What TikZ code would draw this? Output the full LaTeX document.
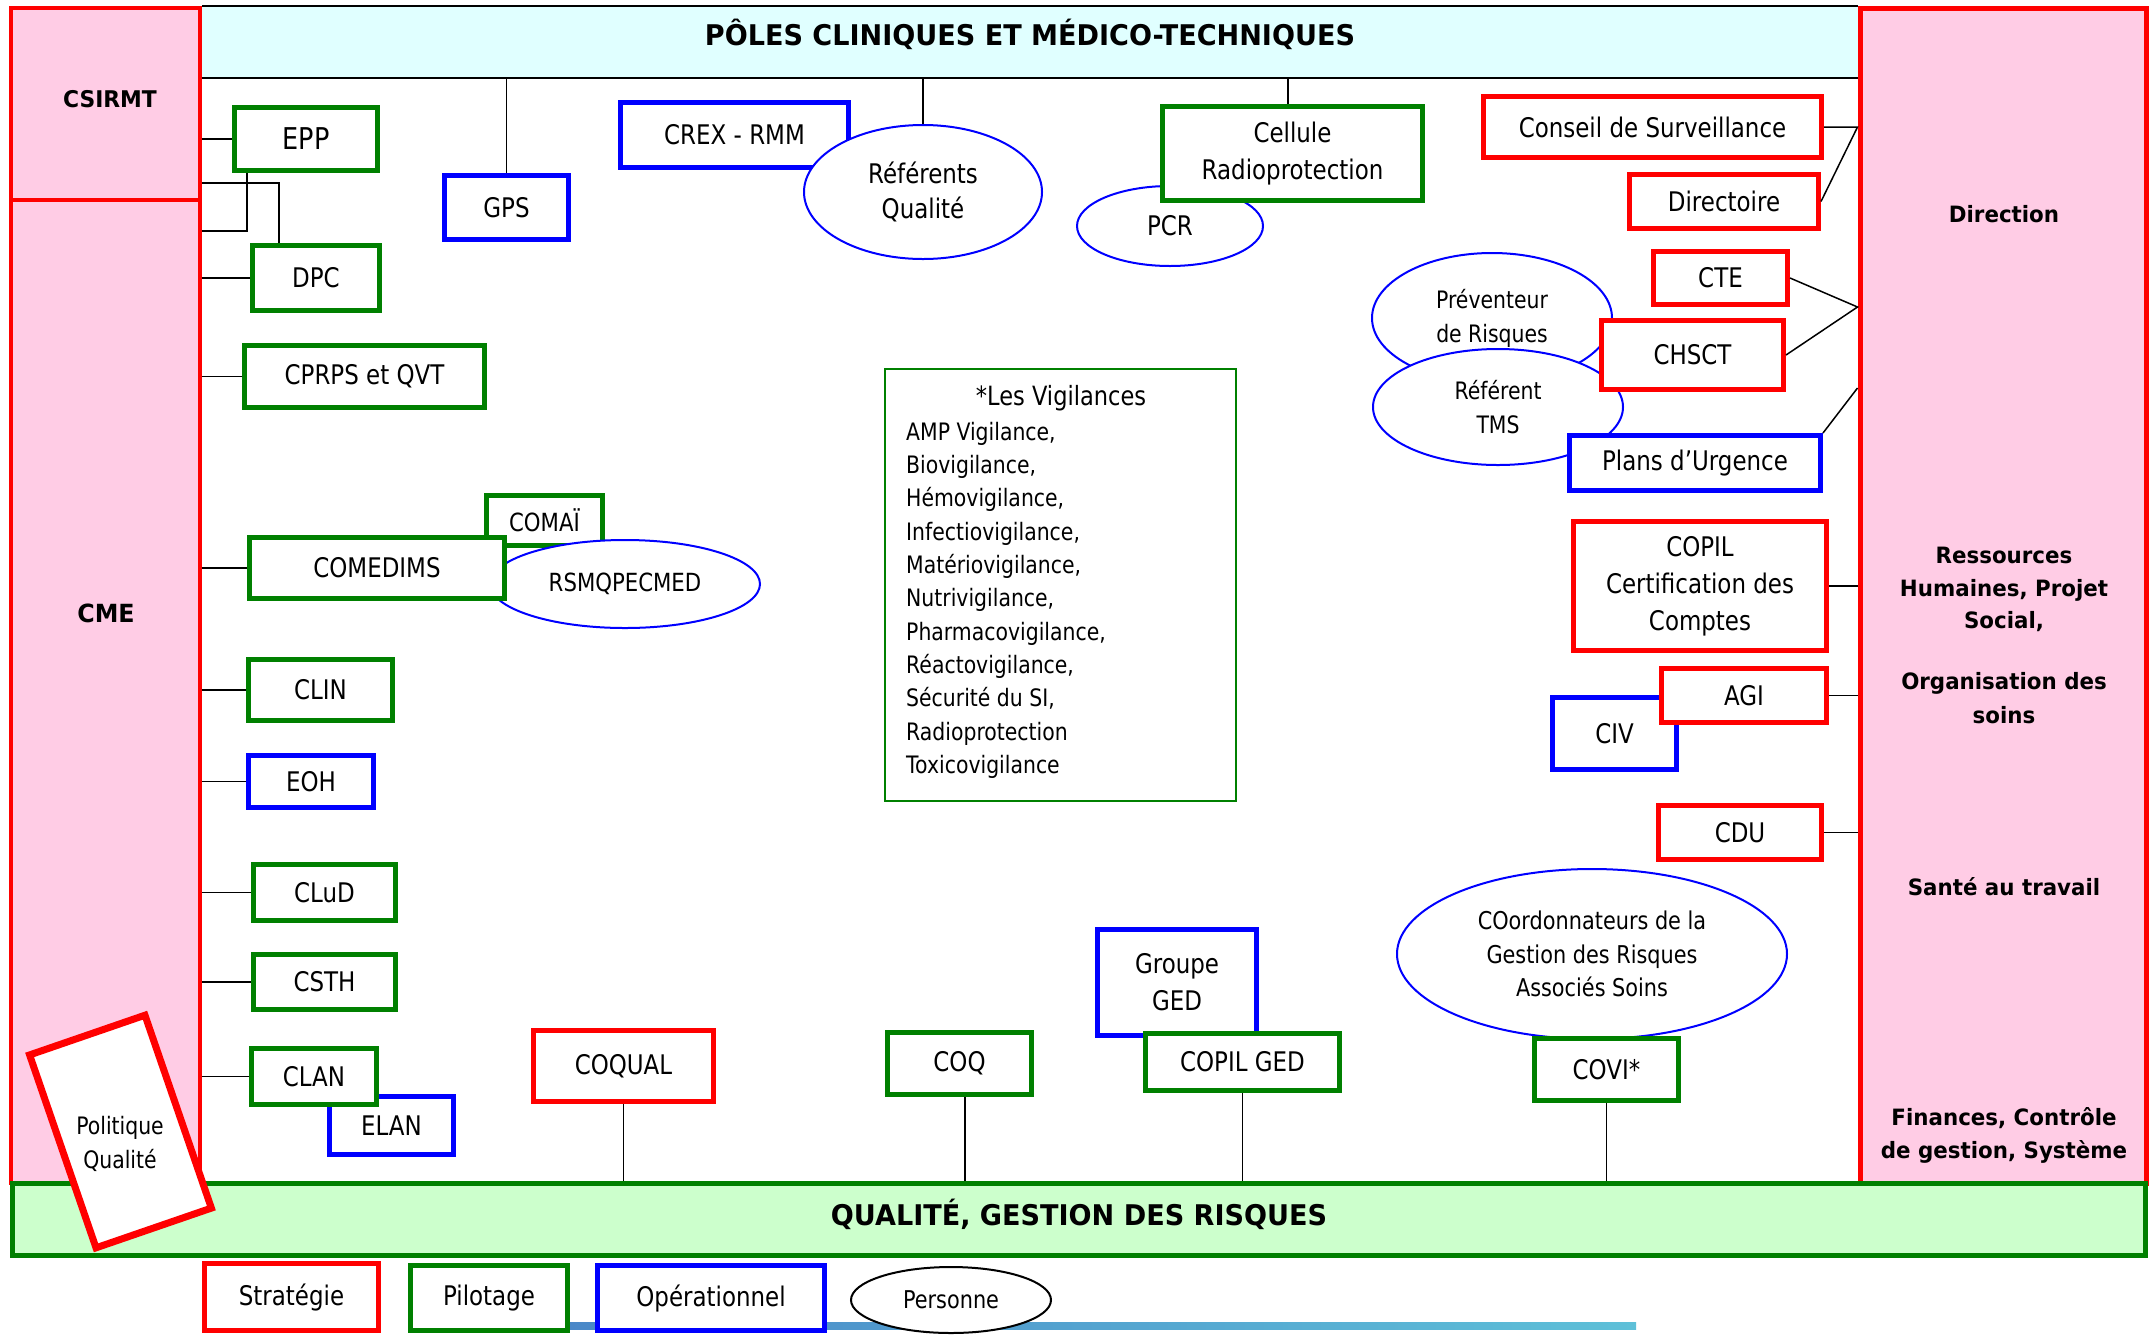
\documentclass[tikz,border=0pt]{standalone}
\usepackage{fontspec}
\setmainfont{DejaVu Sans}[FakeStretch=0.85]
\newfontfamily\bfam{DejaVu Sans}[FakeStretch=0.95]
\usetikzlibrary{shapes.geometric}
\definecolor{pinkc}{HTML}{FFCCE5}
\definecolor{cyanc}{HTML}{E0FFFF}
\definecolor{greenc}{HTML}{CCFFCC}
\definecolor{gr}{HTML}{008000}
\definecolor{rd}{HTML}{FF0000}
\definecolor{bl}{HTML}{0000FF}
\definecolor{lb1}{HTML}{4A88C8}
\definecolor{lb2}{HTML}{5EC0D8}
\tikzset{
 box/.style={draw, line width=5, fill=white, inner sep=0, align=center, font=\fontsize{27}{37}\selectfont},
 gbox/.style={box, draw=gr},
 rbox/.style={box, draw=rd},
 bbox/.style={box, draw=bl},
 ell/.style={ellipse, draw=bl, line width=2, fill=white, inner sep=0, align=center, font=\fontsize{24}{34}\selectfont},
 conn/.style={draw=black, line width=1.5},
 col/.style={draw=rd, fill=pinkc, line width=4.5, inner sep=0},
 lbl/.style={inner sep=0, anchor=base, font=\bfam\bfseries\fontsize{28.5}{34}\selectfont},
 rlbl/.style={inner sep=0, anchor=base, font=\bfam\bfseries\fontsize{22.5}{33}\selectfont},
 vig/.style={inner sep=0, anchor=base west, font=\fontsize{24}{33}\selectfont},
}
\begin{document}
\begin{tikzpicture}[x=1pt,y=-1pt]
\useasboundingbox (0,0) rectangle (2152,1334);
\fill[white] (0,0) rectangle (2152,1334);

% top band
\node[fill=cyanc, minimum width=1656, minimum height=72, inner sep=0, outer sep=0] (poles) at (1030,42) {};
\draw[line width=2] (poles.north west) -- (poles.north east);
\draw[line width=2] (poles.south west) -- (poles.south east);
\node[lbl] (polest) at (1030,45) {PÔLES CLINIQUES ET MÉDICO-TECHNIQUES};

% side columns
\node[col, minimum width=189, minimum height=192] (csirmt) at (105.5,104) {};
\node[col, minimum width=189, minimum height=983] (cme) at (105.5,691.5) {};
\node[col, line width=5, minimum width=286, minimum height=1175] (dir) at (2003,595.5) {};
\node[lbl, font=\bfam\bfseries\fontsize{23}{28}\selectfont] (csirmtt) at (110,107) {CSIRMT};
\node[lbl, font=\bfam\bfseries\fontsize{25}{30}\selectfont] (cmet) at (106,622) {CME};
\node[rlbl] (r1) at (2004,222) {Direction};
\node[rlbl] (r2) at (2004,563) {Ressources};
\node[rlbl] (r3) at (2004,596) {Humaines, Projet};
\node[rlbl] (r4) at (2004,628) {Social,};
\node[rlbl] (r5) at (2004,689) {Organisation des};
\node[rlbl] (r6) at (2004,723) {soins};
\node[rlbl] (r7) at (2004,895) {Santé au travail};
\node[rlbl] (r8) at (2004,1125) {Finances, Contrôle};
\node[rlbl] (r9) at (2004,1158) {de gestion, Système};

% bottom band
\node[draw=gr, line width=5, fill=greenc, minimum width=2133, minimum height=72, inner sep=0] (qgr) at (1078.5,1219) {};
\node[lbl] (qgrt) at (1079,1225) {QUALITÉ, GESTION DES RISQUES};

% boxes and ellipses
\node[gbox, minimum width=143, minimum height=63, font=\fontsize{30}{37}\selectfont] (epp) at (306,139) {EPP};
\node[gbox, minimum width=127, minimum height=65] (dpc) at (316,278) {DPC};
\node[gbox, minimum width=240, minimum height=62] (cprps) at (364.5,376.5) {CPRPS et QVT};
\node[bbox, minimum width=124, minimum height=64] (gps) at (506.5,207.5) {GPS};
\node[bbox, minimum width=228, minimum height=65] (crex) at (734.5,135) {CREX - RMM};
\node[ell, minimum width=238, minimum height=134, font=\fontsize{27}{35}\selectfont] (refq) at (923,192) {Référents\\Qualité};
\node[ell, minimum width=186, minimum height=80, font=\fontsize{27}{35}\selectfont] (pcr) at (1170,226) {PCR};
\node[gbox, minimum width=260, minimum height=94] (cell) at (1292.5,153.5) {Cellule\\Radioprotection};
\node[rbox, minimum width=338, minimum height=61] (cons) at (1652.5,127) {Conseil de Surveillance};
\node[rbox, minimum width=189, minimum height=54] (dirc) at (1724,201.5) {Directoire};
\node[rbox, minimum width=134, minimum height=53] (cte) at (1720.5,278) {CTE};
\node[ell, minimum width=240, minimum height=130] (prev) at (1492,318) {Préventeur\\de Risques};
\node[ell, minimum width=250, minimum height=116] (tms) at (1498,407) {Référent\\TMS};
\node[rbox, minimum width=182, minimum height=69] (chsct) at (1692.5,355) {CHSCT};
\node[bbox, minimum width=251, minimum height=55] (plans) at (1695,463) {Plans d’Urgence};
\node[rbox, minimum width=253, minimum height=129] (copilc) at (1700,586) {COPIL\\Certification des\\Comptes};
\node[bbox, minimum width=124, minimum height=72] (civ) at (1614.5,733.5) {CIV};
\node[rbox, minimum width=165, minimum height=54] (agi) at (1744,695.5) {AGI};
\node[rbox, minimum width=163, minimum height=54] (cdu) at (1740,832.5) {CDU};
\node[gbox, minimum width=116, minimum height=50, font=\fontsize{25}{30}\selectfont] (comai) at (544.5,520.5) {COMAÏ};
\node[ell, minimum width=270, minimum height=88, font=\fontsize{25}{34}\selectfont] (rsmq) at (625,584) {RSMQPECMED};
\node[gbox, minimum width=255, minimum height=61] (comed) at (377,568) {COMEDIMS};
\node[gbox, minimum width=144, minimum height=61] (clin) at (320.5,690) {CLIN};
\node[bbox, minimum width=125, minimum height=52] (eoh) at (311,781.5) {EOH};
\node[gbox, minimum width=142, minimum height=56] (clud) at (324.5,892.5) {CLuD};
\node[gbox, minimum width=142, minimum height=55] (csth) at (324.5,982) {CSTH};
\node[bbox, minimum width=124, minimum height=58] (elan) at (391.5,1125.5) {ELAN};
\node[gbox, minimum width=125, minimum height=56] (clan) at (314,1076.5) {CLAN};
\node[rbox, minimum width=180, minimum height=71] (coqual) at (623.5,1066) {COQUAL};
\node[gbox, minimum width=144, minimum height=62] (coq) at (959.5,1063.5) {COQ};
\node[bbox, minimum width=159, minimum height=106] (ged) at (1177,982.5) {Groupe\\GED};
\node[gbox, minimum width=194, minimum height=57] (copilged) at (1242.5,1062) {COPIL GED};
\node[ell, minimum width=390, minimum height=170, font=\fontsize{24.5}{33.5}\selectfont] (coord) at (1592,954) {COordonnateurs de la\\Gestion des Risques\\Associés Soins};
\node[gbox, minimum width=144, minimum height=62] (covi) at (1606.5,1069.5) {COVI*};

% vigilances
\node[draw=gr, line width=2, minimum width=351, minimum height=432, inner sep=0] (vigbox) at (1060.5,585) {};
\node[inner sep=0, anchor=base, font=\fontsize{26.5}{33}\selectfont] (vigt) at (1061,405) {*Les Vigilances};
\foreach \t [count=\i] in {{AMP Vigilance,},{Biovigilance,},{Hémovigilance,},{Infectiovigilance,},{Matériovigilance,},{Nutrivigilance,},{Pharmacovigilance,},{Réactovigilance,},{Sécurité du SI,},{Radioprotection},{Toxicovigilance}}
  \node[vig] (vl\i) at (906,{407+33.3*\i}) {\t};

% connectors left
\draw[conn] (epp.west) -- (epp.west -| csirmt.east);
\coordinate (ja) at (279,183);
\draw[conn] (ja -| csirmt.east) -- (ja) -- (ja |- dpc.north);
\coordinate (jb) at (247,231);
\draw[conn] (jb |- epp.south) -- (jb) -- (jb -| cme.east);
\draw[conn] (dpc.west) -- (dpc.west -| cme.east);
\draw[conn] (cprps.west) -- (cprps.west -| cme.east);
\draw[conn] (comed.west) -- (comed.west -| cme.east);
\draw[conn] (clin.west) -- (clin.west -| cme.east);
\draw[conn] (eoh.west) -- (eoh.west -| cme.east);
\draw[conn] (clud.west) -- (clud.west -| cme.east);
\draw[conn] (csth.west) -- (csth.west -| cme.east);
\draw[conn] (clan.west) -- (clan.west -| cme.east);
% connectors top
\draw[conn] (gps.north) -- (gps.north |- poles.south);
\draw[conn] (refq.north) -- (refq.north |- poles.south);
\coordinate (jt) at (1288,100);
\draw[conn] (jt |- cell.north) -- (jt |- poles.south);
% connectors bottom
\draw[conn] (coqual.south) -- (coqual.south |- qgr.north);
\coordinate (jq) at (965,1000);
\draw[conn] (jq |- coq.south) -- (jq |- qgr.north);
\draw[conn] (copilged.south) -- (copilged.south |- qgr.north);
\draw[conn] (covi.south) -- (covi.south |- qgr.north);
% connectors right
\draw[conn] (cons.east) -- (cons.east -| dir.west) -- (dirc.east);
\coordinate (jc) at (1858,307);
\draw[conn] (cte.east) -- (jc -| dir.west) -- (chsct.east);
\coordinate (jp) at (1858,388);
\draw[conn] (plans.north east) -- (jp -| dir.west);
\draw[conn] (copilc.east) -- (copilc.east -| dir.west);
\draw[conn] (agi.east) -- (agi.east -| dir.west);
\draw[conn] (cdu.east) -- (cdu.east -| dir.west);

% politique qualite
\node[draw=rd, line width=7, fill=white, minimum width=122, minimum height=204, inner sep=0, rotate=19] (polq) at (120.5,1131.5) {};
\node[inner sep=0, align=center, font=\fontsize{24}{34}\selectfont] (polqt) at (120,1144) {Politique\\Qualité};

% legend
\shade[left color=lb1, right color=lb2] (565,1322.5) rectangle (1636,1329.5);
\node[rbox, minimum width=174, minimum height=67] (lstrat) at (291.5,1297) {Stratégie};
\node[gbox, minimum width=157, minimum height=65] (lpil) at (489,1298) {Pilotage};
\node[bbox, minimum width=227, minimum height=65] (lop) at (711,1298) {Opérationnel};
\node[ell, draw=black, minimum width=200, minimum height=66, font=\fontsize{24.5}{30}\selectfont] (lpers) at (951,1300) {Personne};
\end{tikzpicture}
\end{document}
